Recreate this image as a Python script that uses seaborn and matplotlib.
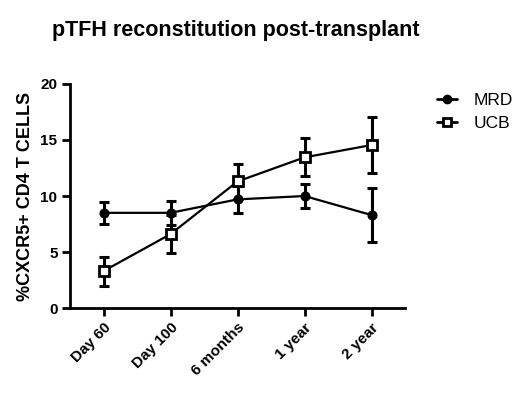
import matplotlib
matplotlib.use("Agg")
import matplotlib.pyplot as plt
import seaborn as sns
import pandas as pd
from matplotlib.lines import Line2D

# data
timepoints = ["Day 60", "Day 100", "6 months", "1 year", "2 year"]
mrd_mean = [8.5, 8.5, 9.7, 10.0, 8.3]
mrd_err = [1.0, 1.1, 1.2, 1.1, 2.4]
ucb_mean = [3.3, 6.6, 11.3, 13.45, 14.55]
ucb_err = [1.3, 1.7, 1.6, 1.7, 2.5]

df = pd.DataFrame({
    "pos": list(range(len(timepoints))) * 2,
    "value": mrd_mean + ucb_mean,
    "group": ["MRD"] * len(timepoints) + ["UCB"] * len(timepoints),
})

sns.set_style("ticks")
plt.rcParams["font.family"] = ["Liberation Sans", "DejaVu Sans"]
plt.rcParams["text.color"] = "black"
plt.rcParams["axes.labelcolor"] = "black"
plt.rcParams["xtick.color"] = "black"
plt.rcParams["ytick.color"] = "black"
plt.rcParams["axes.edgecolor"] = "black"

fig = plt.figure(figsize=(5.2, 3.96), dpi=100)
ax = fig.add_axes([0.1346, 0.222, 0.779 - 0.1346, 0.788 - 0.222])

# error bars first so markers sit on top
ax.errorbar(range(len(timepoints)), mrd_mean, yerr=mrd_err, fmt="none",
            ecolor="black", elinewidth=2.2, capsize=3.5, capthick=2.2, zorder=2)
ax.errorbar(range(len(timepoints)), ucb_mean, yerr=ucb_err, fmt="none",
            ecolor="black", elinewidth=2.2, capsize=3.5, capthick=2.2, zorder=2)

sns.lineplot(data=df, x="pos", y="value", hue="group", style="group",
             palette={"MRD": "black", "UCB": "black"},
             markers={"MRD": "o", "UCB": "s"}, dashes=False,
             linewidth=1.6, markersize=6.5, ax=ax, zorder=3, legend=False)

# open squares for UCB
for line in ax.lines:
    if line.get_marker() == "s":
        line.set_markerfacecolor("white")
        line.set_markeredgecolor("black")
        line.set_markeredgewidth(2)
    elif line.get_marker() == "o":
        line.set_markerfacecolor("black")
        line.set_markeredgecolor("black")

ax.set_xlim(-0.5, 4.5)
ax.set_ylim(0, 20)
ax.set_yticks([0, 5, 10, 15, 20])
ax.set_xticks(range(len(timepoints)))
ax.set_xticklabels(timepoints, rotation=45, ha="right", rotation_mode="anchor",
                   fontsize=11, fontweight="bold")
for lab in ax.get_yticklabels():
    lab.set_fontsize(11)
    lab.set_fontweight("bold")
ax.set_xlabel("")
ax.set_ylabel("%CXCR5+ CD4 T CELLS", fontsize=13, fontweight="bold", labelpad=5)
sns.despine(ax=ax)
for s in ["left", "bottom"]:
    ax.spines[s].set_linewidth(2)
ax.tick_params(axis="both", width=2, length=6, direction="out", pad=3)

# legend drawn by hand, Prism style
handles = [
    Line2D([], [], color="black", marker="o", markersize=6, linewidth=2),
    Line2D([], [], color="black", marker="s", markersize=6, linewidth=2,
           markerfacecolor="white", markeredgewidth=2),
]
ax.legend(handles, ["MRD", "UCB"], loc="upper left", bbox_to_anchor=(1.05, 1.03),
          frameon=False, fontsize=12.5, handlelength=1.1, handletextpad=1.0,
          labelspacing=0.45)

fig.text(0.1, 0.922, "pTFH reconstitution post-transplant", fontsize=15.5,
         fontweight="bold", ha="left", va="center")

fig.savefig("out.png", dpi=100)
